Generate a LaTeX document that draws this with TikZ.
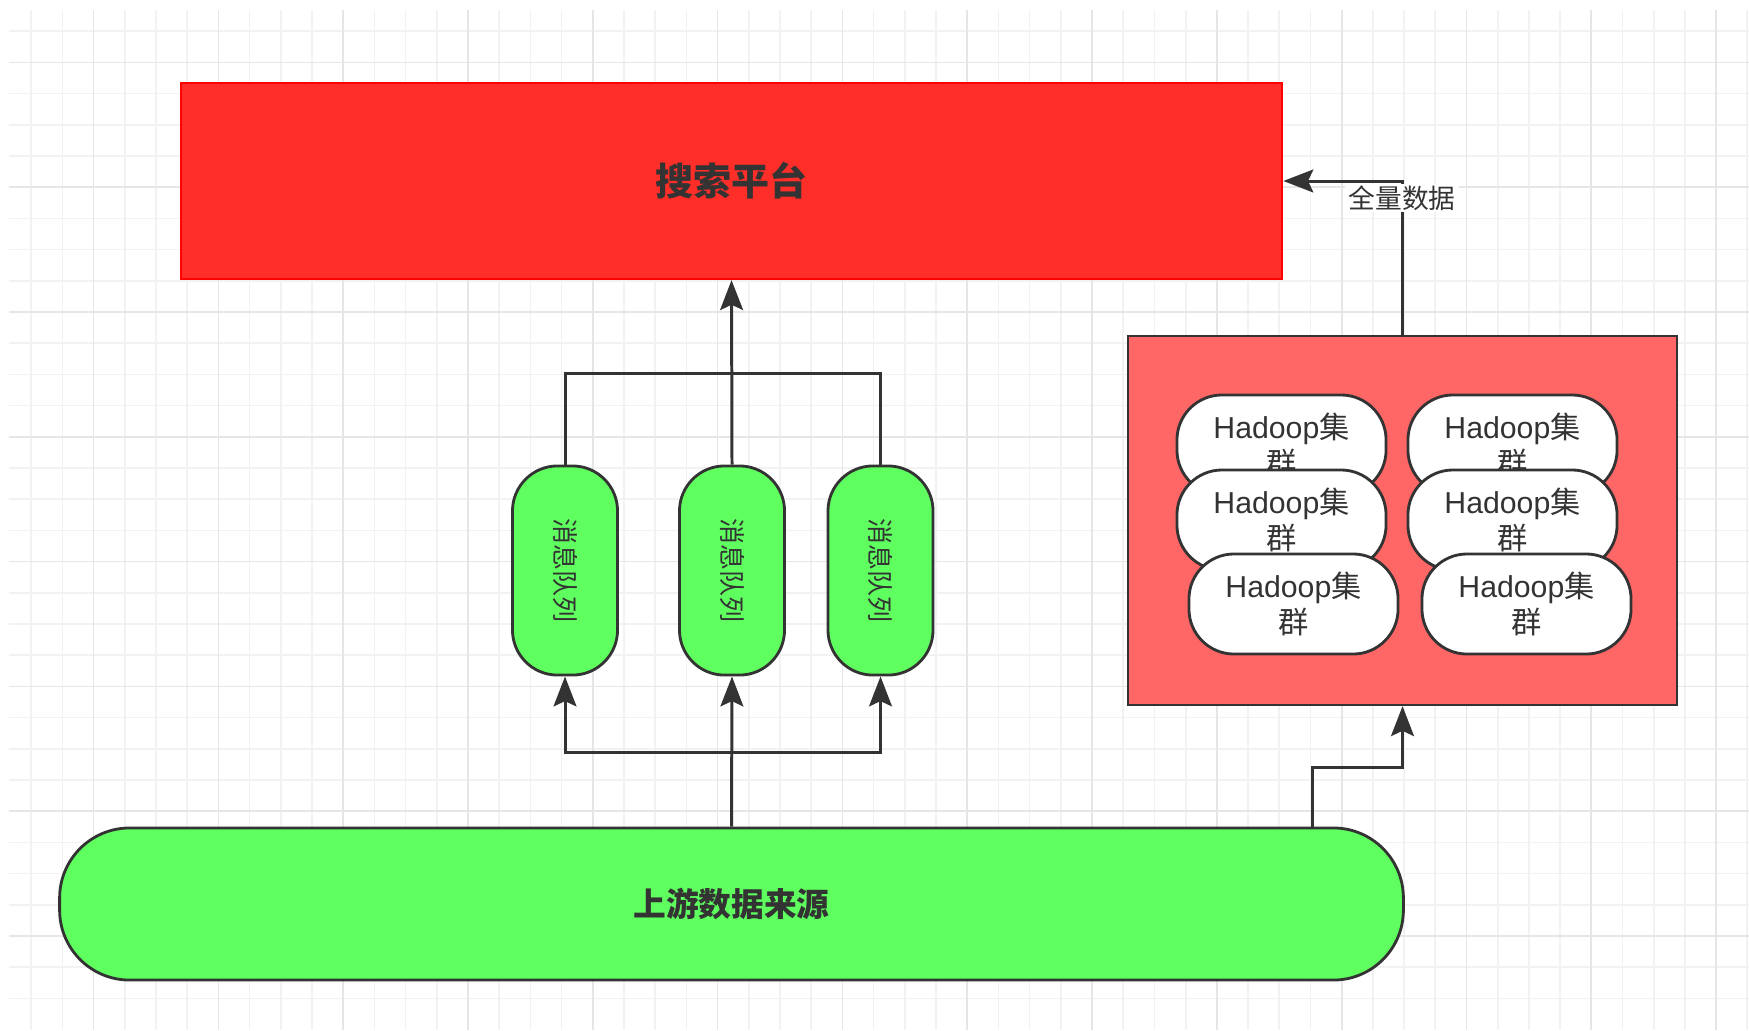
\documentclass[tikz,border=0pt]{standalone}
\usepackage{fontspec}
\setmainfont{Liberation Sans}
\newfontfamily\cjk{Noto Sans CJK SC}
\usepackage{xcolor}
\usepackage{tikz}
\usetikzlibrary{positioning}
\usetikzlibrary{arrows.meta}
\usetikzlibrary{calc}

\definecolor{searchred}{RGB}{255,46,41}
\definecolor{clusterred}{RGB}{255,102,102}
\definecolor{queuegreen}{RGB}{94,255,94}
\definecolor{edgegray}{RGB}{51,51,51}
\definecolor{gridminor}{RGB}{242,242,242}
\definecolor{gridmajor}{RGB}{230,230,230}

\tikzset{
  link/.style={draw=edgegray, line width=0.85pt},
  arr/.style={link, -{Stealth[length=8.5pt,width=6.5pt,inset=1.5pt]}},
  search/.style={draw=red, fill=searchred, line width=0.6pt, minimum width=11.01cm, minimum height=1.96cm, inner sep=0pt, font=\fontsize{10.8}{12}\selectfont\cjk\bfseries, text=edgegray},
  cluster/.style={draw=edgegray, fill=clusterred, line width=0.6pt, minimum width=5.49cm, minimum height=3.69cm, inner sep=0pt},
  hadoop/.style={draw=edgegray, fill=white, line width=0.8pt, rounded corners=0.45cm, minimum width=2.09cm, minimum height=1.0cm, inner sep=0pt, align=center, font=\fontsize{8.6}{8.8}\selectfont, text=edgegray},
  queue/.style={draw=edgegray, fill=queuegreen, line width=0.8pt, rounded corners=0.45cm, minimum width=1.05cm, minimum height=2.09cm, inner sep=0pt, font=\fontsize{7.4}{8}\selectfont\cjk, text=edgegray},
  source/.style={draw=edgegray, fill=queuegreen, line width=0.8pt, rounded corners=0.7cm, minimum width=13.43cm, minimum height=1.52cm, inner sep=0pt, font=\fontsize{9.3}{11}\selectfont\cjk\bfseries, text=edgegray},
  lbl/.style={fill=white, inner xsep=1pt, inner ysep=0.5pt, font=\fontsize{7.6}{8}\selectfont\cjk, text=edgegray},
}

\begin{document}
\begin{tikzpicture}[x=0.01cm, y=-0.01cm]

\useasboundingbox (0,0) rectangle (1749,1030);

% background grid
\foreach \k in {1,...,56}
  \draw[gridminor, line width=0.5pt] (31.2*\k,10) -- (31.2*\k,1030);
\foreach \k in {1,...,32}
  \draw[gridminor, line width=0.5pt] (9,31.2*\k) -- (1749,31.2*\k);
\foreach \k in {0,...,13}
  \draw[gridmajor, line width=0.5pt] (93.6+124.8*\k,10) -- (93.6+124.8*\k,1030);
\foreach \k in {0,...,7}
  \draw[gridmajor, line width=0.5pt] (9,62.4+124.8*\k) -- (1749,62.4+124.8*\k);

% search platform
\node[search] (search) at (731.5,181) {搜索平台};

% hadoop clusters
\node[cluster] (hbox) at (1402.5,520.5) {};
\node[hadoop] (h11) at (1281.5,445) {Hadoop{\cjk 集}\\{\cjk 群}};
\node[hadoop] (h21) at (1512.5,445) {Hadoop{\cjk 集}\\{\cjk 群}};
\node[hadoop] (h12) at (1281.5,520) {Hadoop{\cjk 集}\\{\cjk 群}};
\node[hadoop] (h22) at (1512.5,520) {Hadoop{\cjk 集}\\{\cjk 群}};
\node[hadoop] (h13) at (1293.5,604) {Hadoop{\cjk 集}\\{\cjk 群}};
\node[hadoop] (h23) at (1526.5,604) {Hadoop{\cjk 集}\\{\cjk 群}};

% message queues
\node[queue] (q1) at (565,570.5) {\rotatebox{-90}{消息队列}};
\node[queue] (q2) at (732,570.5) {\rotatebox{-90}{消息队列}};
\node[queue] (q3) at (880.5,570.5) {\rotatebox{-90}{消息队列}};

% upstream source
\node[source] (src) at (731.5,904) {上游数据来源};

% fork points
\coordinate (join) at (732,373);
\coordinate (split) at (732,752);
\coordinate (tap) at (1312,829);
\coordinate (elbow) at (1312,767);

\draw[link] (q1.north) |- (join) -| (q3.north);
\draw[arr] (q2.north) -- (search.south);

\draw[arr] (src.north) -- (q2.south);
\draw[arr] (split) -| (q1.south);
\draw[arr] (split) -| (q3.south);

\draw[arr] (tap) -- (elbow) -| (hbox.south);
\draw[arr] (hbox.north) |- (search.east);

\node[lbl] (full) at (1402,198) {全量数据};

\end{tikzpicture}
\end{document}
